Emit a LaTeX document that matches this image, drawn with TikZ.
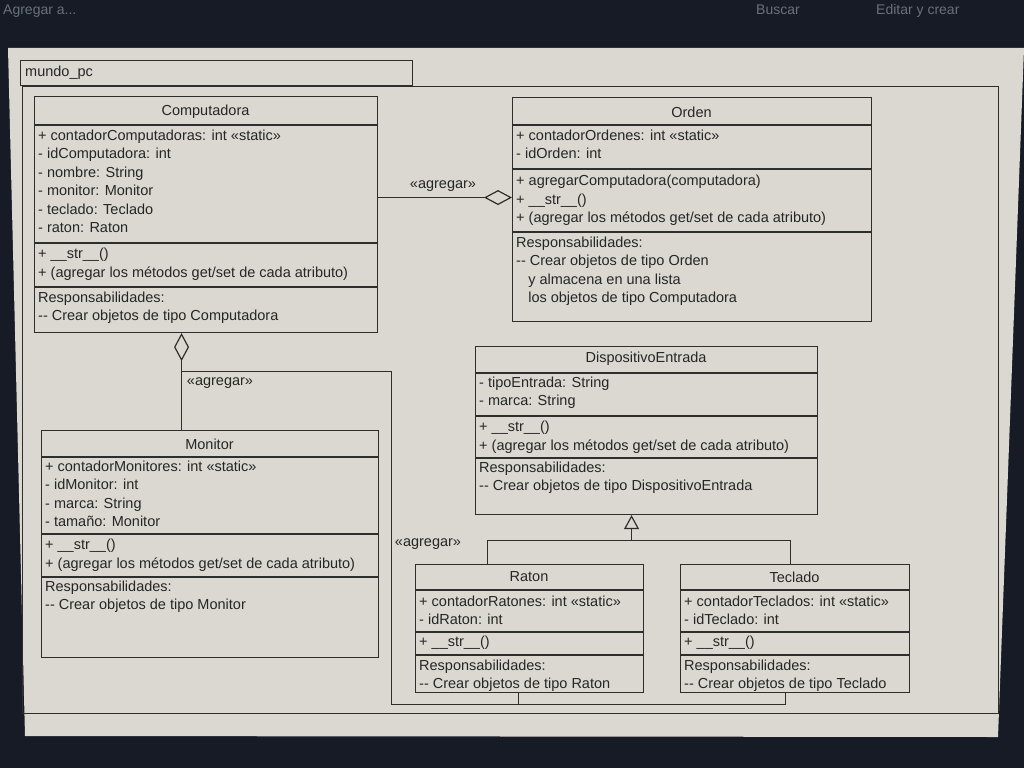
\documentclass[tikz,border=0pt]{standalone}
\usepackage{fontspec}
\setmainfont{Liberation Sans}
\usetikzlibrary{arrows.meta,positioning}
\definecolor{screenbg}{HTML}{161B26}
\definecolor{panelbg}{HTML}{DAD8D0}
\definecolor{umlline}{HTML}{2E2E2E}
\definecolor{umltext}{HTML}{262626}
\definecolor{uitext}{HTML}{6A707C}

\begin{document}
\begin{tikzpicture}[x=1pt, y=-1pt, >=stealth, font=\fontsize{14.5}{18.5}\selectfont]  % pixel grid, y downwards

        % Styles for nodes
        \tikzstyle{umlclass} = [draw=umlline, line width=1.1pt, fill=panelbg, anchor=north west, inner sep=0pt]
        \tikzstyle{classname} = [text=umltext, inner sep=0pt]
        \tikzstyle{members} = [anchor=north west, align=left, inner sep=0pt, text=umltext]
        \tikzstyle{sep} = [draw=umlline, line width=1.1pt]
        \tikzstyle{conn} = [draw=umlline, line width=1.1pt]
        \tikzstyle{stereo} = [text=umltext, inner sep=0pt]
        \tikzstyle{uilabel} = [anchor=base west, text=uitext, inner sep=0pt, font=\fontsize{14}{16}\selectfont]
        \tikzstyle{aggr} = [conn, -{Diamond[open, length=28pt, width=15pt, line width=1.2pt]}]
        \tikzstyle{gen} = [conn, -{Triangle[open, length=14pt, width=15pt, line width=1.2pt]}]

        % Screen and panel
        \useasboundingbox (0,0) rectangle (1024,768);
        \fill[screenbg] (0,0) rectangle (1024,768);
        \fill[panelbg] (8,48) -- (1024,48) -- (998,737) -- (25,736) -- cycle;
        \node[uilabel] (ui1) at (3,15) {Agregar a...};
        \node[uilabel] (ui2) at (756,15) {Buscar};
        \node[uilabel] (ui3) at (876,15) {Editar y crear};

        % Package
        \node[draw=umlline, line width=1.3pt, anchor=north west, minimum width=392pt, minimum height=25pt, inner sep=0pt] (tab) at (20,60) {};
        \node[anchor=west, inner xsep=5pt, text=umltext] (pkgname) at (tab.west) {mundo\_pc};
        \node[draw=umlline, line width=1.3pt, anchor=north west, minimum width=976pt, minimum height=627pt, inner sep=0pt] (pkg) at (22,86) {};

        % Computadora
        \node[umlclass, minimum width=343pt, minimum height=236pt] (comp) at (34,96) {};
        \node[classname] (compname) at (205.5,112) {Computadora};
        \draw[sep] (34,125) -- (377,125);
        \node[members] (compattr) at (38,129.5) {+ contadorComputadoras: int «static»\\- idComputadora: int\\- nombre: String\\- monitor: Monitor\\- teclado: Teclado\\- raton: Raton};
        \draw[sep] (34,243) -- (377,243);
        \node[members] (compops) at (38,248) {+ \_\_str\_\_()\\+ (agregar los métodos get/set de cada atributo)};
        \draw[sep] (34,287) -- (377,287);
        \node[members] (compresp) at (38,291.5) {Responsabilidades:\\-{}- Crear objetos de tipo Computadora};

        % Orden
        \node[umlclass, minimum width=359pt, minimum height=224pt] (orden) at (512,97) {};
        \node[classname] (ordenname) at (691.5,112) {Orden};
        \draw[sep] (512,125) -- (871,125);
        \node[members] (ordenattr) at (516,129.5) {+ contadorOrdenes: int «static»\\- idOrden: int};
        \draw[sep] (512,169) -- (871,169);
        \node[members] (ordenops) at (516,175) {+ agregarComputadora(computadora)\\+ \_\_str\_\_()\\+ (agregar los métodos get/set de cada atributo)};
        \draw[sep] (512,232) -- (871,232);
        \node[members] (ordenresp) at (516,236.5) {Responsabilidades:\\-{}- Crear objetos de tipo Orden\\\ \ \ y almacena en una lista\\\ \ \ los objetos de tipo Computadora};

        % Monitor
        \node[umlclass, minimum width=337pt, minimum height=227pt] (monitor) at (41,430) {};
        \node[classname] (monitorname) at (209.5,444) {Monitor};
        \draw[sep] (41,457) -- (378,457);
        \node[members] (monitorattr) at (45,460.5) {+ contadorMonitores: int «static»\\- idMonitor: int\\- marca: String\\- tamaño: Monitor};
        \draw[sep] (41,534) -- (378,534);
        \node[members] (monitorops) at (45,539) {+ \_\_str\_\_()\\+ (agregar los métodos get/set de cada atributo)};
        \draw[sep] (41,577) -- (378,577);
        \node[members] (monitorresp) at (45,580.5) {Responsabilidades:\\-{}- Crear objetos de tipo Monitor};

        % DispositivoEntrada
        \node[umlclass, minimum width=342pt, minimum height=168pt] (de) at (475,346) {};
        \node[classname] (dename) at (646,359) {DispositivoEntrada};
        \draw[sep] (475,373) -- (817,373);
        \node[members] (deattr) at (479,376.5) {- tipoEntrada: String\\- marca: String};
        \draw[sep] (475,416) -- (817,416);
        \node[members] (deops) at (479,421) {+ \_\_str\_\_()\\+ (agregar los métodos get/set de cada atributo)};
        \draw[sep] (475,458) -- (817,458);
        \node[members] (deresp) at (479,461.5) {Responsabilidades:\\-{}- Crear objetos de tipo DispositivoEntrada};

        % Raton
        \node[umlclass, minimum width=228pt, minimum height=128pt] (raton) at (415,564) {};
        \node[classname] (ratonname) at (529,577) {Raton};
        \draw[sep] (415,590) -- (643,590);
        \node[members] (ratonattr) at (419,595.5) {+ contadorRatones: int «static»\\- idRaton: int};
        \draw[sep] (415,632) -- (643,632);
        \node[members] (ratonops) at (419,636) {+ \_\_str\_\_()};
        \draw[sep] (415,655) -- (643,655);
        \node[members] (ratonresp) at (419,659.5) {Responsabilidades:\\-{}- Crear objetos de tipo Raton};

        % Teclado
        \node[umlclass, minimum width=229pt, minimum height=128pt] (teclado) at (680,564) {};
        \node[classname] (tecladoname) at (794.5,577) {Teclado};
        \draw[sep] (680,590) -- (909,590);
        \node[members] (tecladoattr) at (684,595.5) {+ contadorTeclados: int «static»\\- idTeclado: int};
        \draw[sep] (680,632) -- (909,632);
        \node[members] (tecladoops) at (684,636) {+ \_\_str\_\_()};
        \draw[sep] (680,655) -- (909,655);
        \node[members] (tecladoresp) at (684,659.5) {Responsabilidades:\\-{}- Crear objetos de tipo Teclado};

        % Connection points
        \coordinate (ordenin) at ([yshift=12pt]orden.west);
        \coordinate (compout) at ([xshift=-24.5pt]comp.south);
        \coordinate (branch) at ([yshift=-38pt]compout);
        \coordinate (ratonin) at ([xshift=-11pt]raton.south);
        \coordinate (tecladoin) at ([xshift=-9.5pt]teclado.south);
        \coordinate (bottomrun) at ([yshift=-11pt]ratonin);
        \coordinate (deout) at ([xshift=-15pt]de.south);
        \coordinate (genjoin) at ([yshift=-25pt]deout);

        % Arrows
        \draw[aggr] (comp.east |- ordenin) -- (ordenin);
        \draw[aggr] (compout |- monitor.north) -- (compout);
        \draw[conn] (branch) -- ++(210,0) |- (bottomrun) -| (tecladoin);
        \draw[conn] (ratonin) -- (bottomrun);
        \draw[gen] (genjoin) -- (deout);
        \draw[conn] ([xshift=-42pt]raton.north) |- (genjoin) -| ([xshift=-4.5pt]teclado.north);

        % Labels
        \node[stereo] (agg1) at (443,186) {«agregar»};
        \node[stereo] (agg2) at (220,383) {«agregar»};
        \node[stereo] (agg3) at (428,544) {«agregar»};

    \end{tikzpicture}
\end{document}
